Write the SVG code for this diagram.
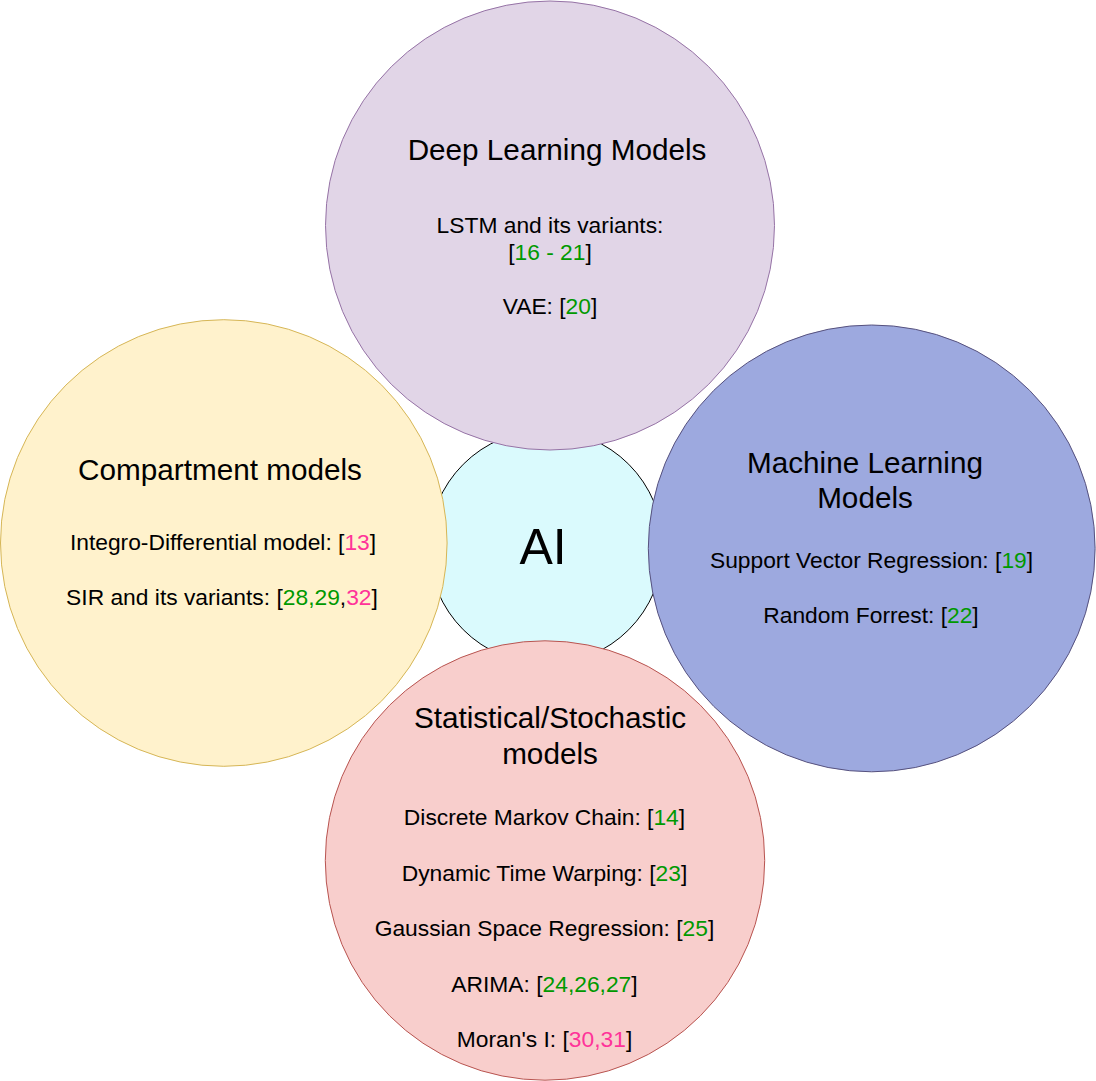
<svg xmlns="http://www.w3.org/2000/svg" width="1096" height="1081" viewBox="0 0 1096 1081">
<style>
text{font-family:"Liberation Sans",Arial,Helvetica,sans-serif;fill:#000;text-anchor:middle}
.t{font-size:29.7px}
.b{font-size:22.8px}
.g{fill:#009900}
.p{fill:#FF3399}
circle{stroke-width:1}
</style>
<rect width="1096" height="1081" fill="#ffffff"/>
<g id="connectors"/>
<g id="ai">
<circle cx="546" cy="547" r="117" fill="#DAFAFD" stroke="#000000"/>
<text x="543" y="564" style="font-size:50px">AI</text>
</g>
<g id="deep-learning">
<circle cx="550" cy="225.5" r="224.5" fill="#E1D5E7" stroke="#9673A6"/>
<text class="t" x="557" y="160">Deep Learning Models</text>
<text class="b" x="550" y="233">LSTM and its variants:</text>
<text class="b" x="550" y="260">[<tspan class="g">16 - 21</tspan>]</text>
<text class="b" x="550" y="314">VAE: [<tspan class="g">20</tspan>]</text>
</g>
<g id="compartment">
<circle cx="223.8" cy="543" r="223.3" fill="#FFF2CC" stroke="#D6B656"/>
<text class="t" x="220" y="480">Compartment models</text>
<text class="b" x="223" y="550">Integro-Differential model: [<tspan class="p">13</tspan>]</text>
<text class="b" x="222" y="605">SIR and its variants: [<tspan class="g">28,29</tspan>,<tspan class="p">32</tspan>]</text>
</g>
<g id="machine-learning">
<circle cx="871.7" cy="548.4" r="223.4" fill="#9DA9DF" stroke="#56517E"/>
<text class="t" x="865" y="473">Machine Learning</text>
<text class="t" x="865" y="508">Models</text>
<text class="b" x="871.5" y="568">Support Vector Regression: [<tspan class="g">19</tspan>]</text>
<text class="b" x="871" y="623">Random Forrest: [<tspan class="g">22</tspan>]</text>
</g>
<g id="statistical">
<circle cx="545" cy="860.5" r="219.7" fill="#F8CECC" stroke="#B85450"/>
<text class="t" x="550" y="728">Statistical/Stochastic</text>
<text class="t" x="550" y="764">models</text>
<text class="b" x="544.5" y="825">Discrete Markov Chain: [<tspan class="g">14</tspan>]</text>
<text class="b" x="544.5" y="880.5">Dynamic Time Warping: [<tspan class="g">23</tspan>]</text>
<text class="b" x="544.5" y="936">Gaussian Space Regression: [<tspan class="g">25</tspan>]</text>
<text class="b" x="544.5" y="991.5">ARIMA: [<tspan class="g">24,26,27</tspan>]</text>
<text class="b" x="544.5" y="1047">Moran's I: [<tspan class="p">30,31</tspan>]</text>
</g>
</svg>
